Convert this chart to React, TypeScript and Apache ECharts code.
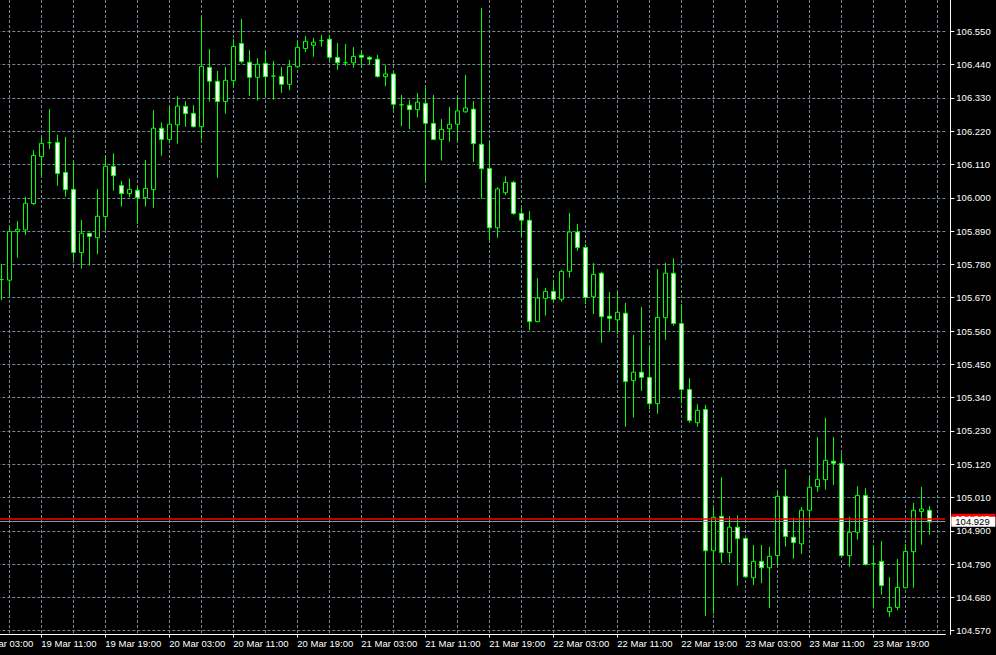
import React, { useEffect, useRef } from "react";
import * as echarts from "echarts";

// Hourly candles, first candle = 19 Mar 06:00
const openP = [
  105.730, 105.728, 105.889, 105.894, 105.981, 106.136, 106.182, 106.183, 106.084, 106.028,
  105.819, 105.883, 105.868, 105.938, 106.104, 106.041, 106.014, 106.025, 106.000, 106.027,
  106.230, 106.193, 106.241, 106.302, 106.279, 106.235, 106.431, 106.385, 106.318, 106.387,
  106.510, 106.448, 106.398, 106.444, 106.402, 106.401, 106.375, 106.433, 106.493, 106.504,
  106.519, 106.524, 106.464, 106.446, 106.446, 106.471, 106.464, 106.458, 106.400, 106.409,
  106.307, 106.306, 106.291, 106.312, 106.246, 106.193, 106.228, 106.243, 106.284, 106.293,
  106.177, 106.097, 105.901, 106.017, 106.051, 105.948, 105.926, 105.591, 105.668, 105.691,
  105.665, 105.757, 105.887, 105.836, 105.673, 105.751, 105.609, 105.597, 105.619, 105.396,
  105.424, 105.407, 105.320, 105.604, 105.751, 105.585, 105.367, 105.257, 105.301, 104.834,
  104.948, 104.828, 104.912, 104.875, 104.745, 104.799, 104.778, 104.818, 105.014, 104.879,
  104.857, 104.968, 105.046, 105.069, 105.130, 105.123, 104.818, 104.895, 105.017, 104.791,
  104.799, 104.633, 104.647, 104.712, 104.831, 104.964, 104.968,
];
const highP = [
  105.781, 105.903, 105.923, 106.003, 106.158, 106.201, 106.293, 106.208, 106.201, 106.121,
  105.927, 105.883, 106.029, 106.139, 106.147, 106.056, 106.064, 106.040, 106.125, 106.290,
  106.249, 106.299, 106.335, 106.319, 106.306, 106.596, 106.491, 106.419, 106.432, 106.524,
  106.591, 106.488, 106.461, 106.485, 106.452, 106.432, 106.455, 106.516, 106.535, 106.528,
  106.538, 106.538, 106.511, 106.508, 106.498, 106.486, 106.468, 106.472, 106.439, 106.418,
  106.340, 106.323, 106.346, 106.366, 106.340, 106.260, 106.300, 106.331, 106.406, 106.320,
  106.627, 106.184, 106.035, 106.071, 106.056, 105.969, 105.956, 105.735, 105.702, 105.729,
  105.762, 105.950, 105.914, 105.847, 105.784, 105.756, 105.689, 105.689, 105.653, 105.547,
  105.639, 105.511, 105.765, 105.785, 105.800, 105.648, 105.404, 105.318, 105.316, 104.975,
  105.077, 104.948, 104.951, 104.875, 104.853, 104.853, 104.847, 105.032, 105.104, 104.943,
  104.979, 105.077, 105.210, 105.273, 105.210, 105.156, 104.946, 105.047, 105.041, 104.851,
  104.866, 104.747, 104.807, 104.856, 104.992, 105.045, 104.982,
];
const lowP = [
  105.662, 105.676, 105.802, 105.877, 105.976, 106.073, 106.161, 106.040, 106.004, 105.795,
  105.766, 105.776, 105.814, 105.894, 106.024, 105.971, 106.002, 105.914, 105.971, 105.967,
  106.139, 106.180, 106.179, 106.235, 106.232, 106.193, 106.318, 106.066, 106.278, 106.366,
  106.444, 106.337, 106.321, 106.334, 106.324, 106.347, 106.356, 106.429, 106.482, 106.466,
  106.499, 106.452, 106.423, 106.436, 106.430, 106.430, 106.440, 106.397, 106.369, 106.291,
  106.237, 106.227, 106.265, 106.053, 106.190, 106.123, 106.185, 106.188, 106.281, 106.118,
  105.997, 105.857, 105.868, 106.009, 105.943, 105.872, 105.563, 105.589, 105.611, 105.657,
  105.657, 105.736, 105.825, 105.649, 105.616, 105.521, 105.558, 105.550, 105.244, 105.274,
  105.362, 105.302, 105.287, 105.531, 105.577, 105.321, 105.257, 105.244, 104.619, 104.626,
  104.794, 104.794, 104.719, 104.745, 104.721, 104.727, 104.645, 104.785, 104.848, 104.808,
  104.824, 104.917, 105.029, 105.036, 105.051, 104.816, 104.781, 104.871, 104.785, 104.643,
  104.689, 104.616, 104.638, 104.710, 104.712, 104.854, 104.887,
];
const closeP = [
  105.730, 105.889, 105.896, 105.982, 106.140, 106.180, 106.182, 106.080, 106.027, 105.819,
  105.883, 105.872, 105.939, 106.104, 106.073, 106.014, 106.028, 106.000, 106.031, 106.230,
  106.193, 106.243, 106.303, 106.278, 106.235, 106.434, 106.385, 106.318, 106.388, 106.500,
  106.450, 106.398, 106.441, 106.400, 106.402, 106.375, 106.434, 106.497, 106.517, 106.514,
  106.519, 106.464, 106.446, 106.446, 106.467, 106.464, 106.458, 106.401, 106.409, 106.309,
  106.307, 106.291, 106.316, 106.246, 106.193, 106.226, 106.243, 106.287, 106.297, 106.179,
  106.096, 105.901, 106.029, 106.051, 105.948, 105.926, 105.591, 105.669, 105.691, 105.665,
  105.757, 105.887, 105.836, 105.671, 105.747, 105.607, 105.602, 105.622, 105.393, 105.424,
  105.407, 105.320, 105.605, 105.751, 105.585, 105.367, 105.264, 105.298, 104.834, 104.945,
  104.828, 104.912, 104.874, 104.748, 104.799, 104.778, 104.816, 105.014, 104.881, 104.861,
  104.968, 105.044, 105.070, 105.133, 105.123, 104.818, 104.895, 105.017, 104.789, 104.791,
  104.719, 104.647, 104.713, 104.832, 104.968, 104.972, 104.929,
];

const priceTicks = [
  104.57, 104.68, 104.79, 104.9, 105.01, 105.12, 105.23, 105.34, 105.45, 105.56,
  105.67, 105.78, 105.89, 106.0, 106.11, 106.22, 106.33, 106.44, 106.55,
];
const askPrice = 104.943;
const bidPrice = 104.929;

// Time axis: hourly categories starting 19 Mar 03:00
const START_DAY = 19;
const START_HOUR = 3;
const CATEGORY_COUNT = 122;
const FIRST_CANDLE_INDEX = 3; // 19 Mar 06:00
const LABEL_EVERY = 8;
const GRID_EVERY = 4;

const pad2 = (n: number) => (n < 10 ? "0" + n : "" + n);
const categories: string[] = [];
for (let i = 0; i < CATEGORY_COUNT; i++) {
  const h = START_HOUR + i;
  categories.push(`${START_DAY + Math.floor(h / 24)} Mar ${pad2(h % 24)}:00`);
}

const FONT = "'Liberation Sans', Arial, sans-serif";

export default function App() {
  const ref = useRef<HTMLDivElement>(null);
  useEffect(() => {
    if (!ref.current) return;
    const chart = echarts.init(ref.current, undefined, { renderer: "svg" });
    const candleData = openP.map((o, k) => [
      k + FIRST_CANDLE_INDEX,
      o,
      closeP[k],
      lowP[k],
      highP[k],
    ]);
    const gridLine = { color: "#778899", width: 1, type: [3, 2] as any };
    chart.setOption({
      animation: false,
      backgroundColor: "#000000",
      grid: {
        left: -22.667,
        width: 968,
        top: 0,
        height: 634.5,
        containLabel: false,
        outerBoundsMode: "none",
      },
      xAxis: {
        type: "category",
        boundaryGap: false,
        data: categories,
        axisLine: { show: true, lineStyle: { color: "#ffffff", width: 1 } },
        axisTick: {
          show: true,
          length: 3,
          lineStyle: { color: "#ffffff" },
          interval: (i: number) => i % LABEL_EVERY === 0 && i < 120,
        },
        axisLabel: {
          show: true,
          color: "#ffffff",
          fontFamily: FONT,
          fontSize: 9.5,
          align: "left",
          margin: 4,
          hideOverlap: false,
          interval: (i: number) => i % LABEL_EVERY === 0 && i < 120,
        },
        splitLine: {
          show: true,
          lineStyle: gridLine,
          interval: (i: number) => i % GRID_EVERY === 0,
        },
      },
      yAxis: {
        type: "value",
        position: "right",
        offset: 5,
        min: 104.5575,
        max: 106.6534,
        scale: true,
        axisLine: { show: true, lineStyle: { color: "#ffffff", width: 1 } },
        axisTick: {
          show: true,
          length: 4,
          lineStyle: { color: "#ffffff" },
          customValues: priceTicks,
        },
        axisLabel: {
          show: true,
          color: "#ffffff",
          fontFamily: FONT,
          fontSize: 9.5,
          margin: 6,
          customValues: priceTicks,
          formatter: (v: number) => v.toFixed(3),
        },
        splitLine: { show: true, lineStyle: gridLine },
      },
      series: [
        {
          type: "candlestick",
          data: candleData,
          encode: { x: 0, y: [1, 2, 3, 4] },
          barWidth: 4,
          clip: false,
          itemStyle: {
            color: "#000000",
            color0: "#ffffff",
            borderColor: "#00ff00",
            borderColor0: "#00ff00",
            borderColorDoji: "#00ff00",
            borderWidth: 1,
          },
          markLine: {
            silent: true,
            symbol: "none",
            animation: false,
            data: [
              {
                yAxis: askPrice,
                lineStyle: { color: "#ff0000", width: 1.5, type: "solid" },
                label: {
                  show: true,
                  position: "end",
                  distance: 6,
                  formatter: askPrice.toFixed(3),
                  color: "#ffffff",
                  backgroundColor: "#ff0000",
                  fontFamily: FONT,
                  fontSize: 9.5,
                  lineHeight: 10,
                  padding: [0, 4, 0, 4],
                  width: 36,
                },
              },
              {
                yAxis: bidPrice,
                lineStyle: { color: "#8894a0", width: 1, type: "solid" },
                label: {
                  show: true,
                  position: "end",
                  distance: 6,
                  formatter: bidPrice.toFixed(3),
                  color: "#000000",
                  backgroundColor: "#ffffff",
                  fontFamily: FONT,
                  fontSize: 9.5,
                  lineHeight: 10,
                  padding: [0, 4, 0, 4],
                  width: 36,
                },
              },
            ],
          },
        },
      ],
    });
    return () => chart.dispose();
  }, []);
  return (
    <div
      ref={ref}
      style={{ position: "fixed", left: 0, top: 0, width: 996, height: 655, background: "#000" }}
    />
  );
}
